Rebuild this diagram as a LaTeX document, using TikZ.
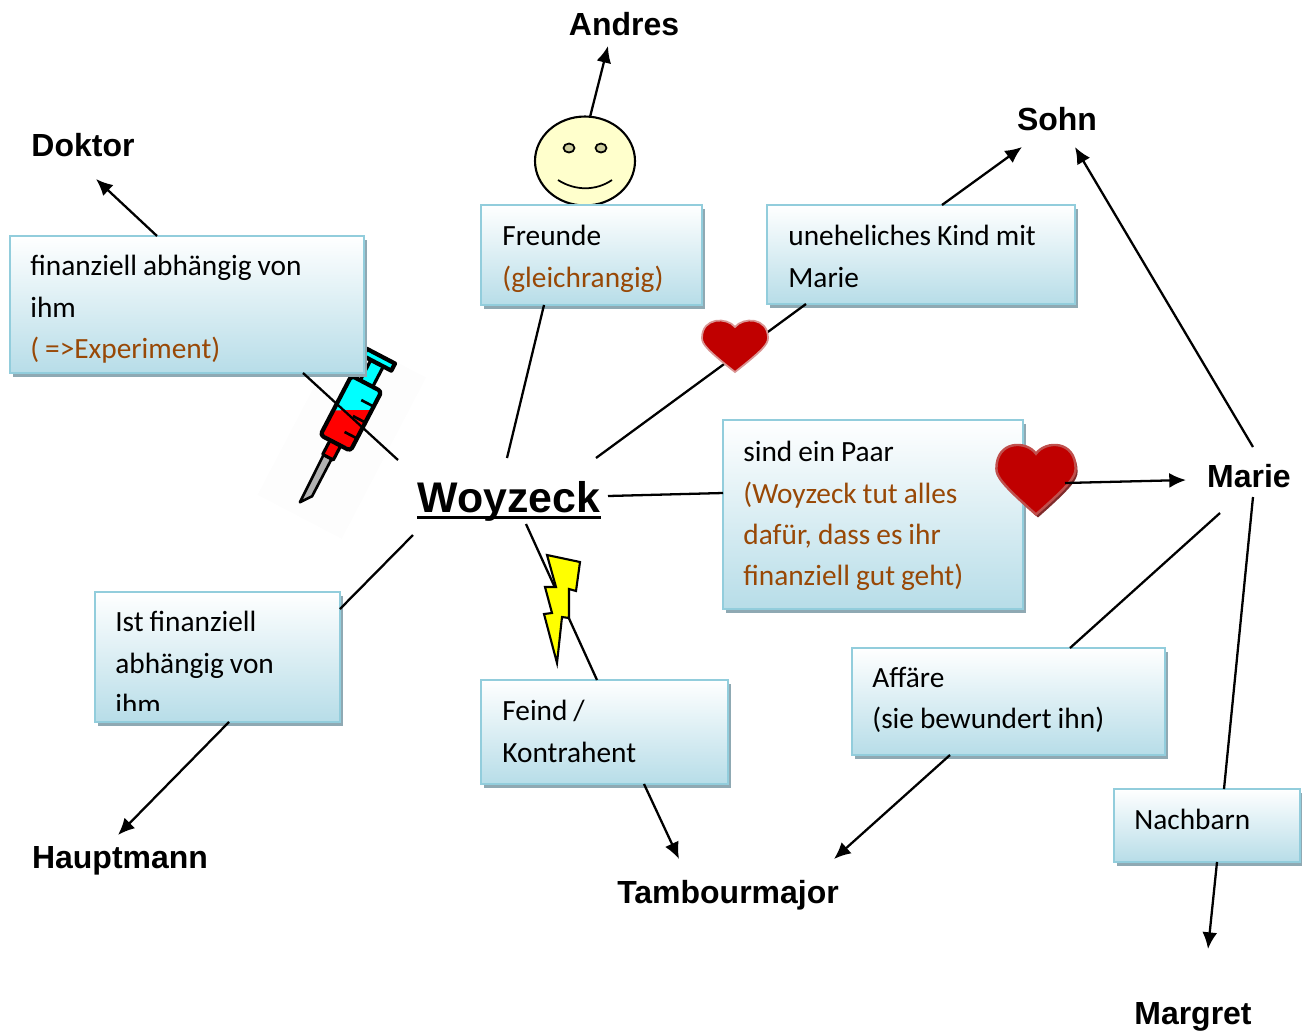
\documentclass[tikz,border=0pt]{standalone}
\usepackage{fontspec}
\setmainfont{Liberation Sans}
\newfontfamily\boxfont[WordSpace=0.9]{Carlito}
\usetikzlibrary{arrows.meta,calc,shadows,shapes.geometric}
\definecolor{boxline}{HTML}{92CDDC}
\definecolor{boxblue}{HTML}{B7DDE8}
\definecolor{boxshade}{HTML}{8FA9B3}
\definecolor{noteb}{HTML}{984806}
\definecolor{heartred}{HTML}{C00000}
\definecolor{heartedge}{HTML}{D99594}
\definecolor{bigedge}{HTML}{C0504D}
\definecolor{heartdark}{HTML}{7F2A2A}
\definecolor{faceyellow}{HTML}{FFFFCC}
\definecolor{eyegrey}{HTML}{CDCD9F}
\definecolor{syrcyan}{HTML}{00FFFF}
\definecolor{syrred}{HTML}{FF0000}
\definecolor{boltyellow}{HTML}{FFFF00}
\definecolor{syrback}{HTML}{FDFDFD}
\tikzset{
	relbox/.style={draw=boxline,line width=1.5pt,top color=white,bottom color=boxblue,
		drop shadow={shadow xshift=0.06cm,shadow yshift=-0.08cm,fill=boxshade,opacity=1},
		anchor=north west,inner sep=0pt,outer sep=0pt},
	boxtext/.style={anchor=north west,inner sep=0pt,align=left,
		font=\boxfont\fontsize{16.7}{23.5}\selectfont},
	person/.style={font=\bfseries\fontsize{18.2}{22}\selectfont,inner sep=0pt},
	link/.style={line width=1.3pt},
	linkto/.style={line width=1.3pt,-{Latex[length=9.5pt,width=8.5pt]}},
	heartshape/.pic={
		\path[pic actions] (0,-18) .. controls (-8,-28) and (-33,-28) .. (-33,-7)
			.. controls (-33,-1) and (-28,5) .. (0,27)
			.. controls (28,5) and (33,-1) .. (33,-7)
			.. controls (33,-28) and (8,-28) .. (0,-18) -- cycle;
	}
}
\begin{document}
\begin{tikzpicture}[x=0.02cm,y=-0.02cm]
	\useasboundingbox (0,0) rectangle (1302,1032);

	% Syringe
	\begin{scope}[shift={(303,505)},rotate=-27.6,line join=round]
		\fill[syrback] (-45,12) rectangle (50,-170);
		\draw[black,line width=1.5pt,fill=black!30] (-4,-1) -- (-5,-54) -- (4,-54) -- (4,-12) -- cycle;
		\draw[black,line width=1.8pt,fill=syrred] (-6,-54) rectangle (6,-72);
		\draw[black,line width=1.8pt,fill=syrcyan] (-7,-137) rectangle (7,-162);
		\draw[black,line width=2.4pt,fill=syrcyan] (-16,-160) rectangle (16,-168);
		\fill[syrcyan] (-17,-72) rectangle (17,-137);
		\fill[syrred] (-17,-72) -- (-17,-98) -- (17,-116) -- (17,-72) -- cycle;
		\draw[black,line width=2.4pt,rounded corners=2] (-17,-70) rectangle (17,-137);
		\foreach \i in {84,102,120}{
				\draw[black,line width=1.5pt] (17,-\i) -- (3,-\i);
			}
	\end{scope}

	% Names
	\node[font=\bfseries\fontsize{24.4}{28}\selectfont,inner sep=0pt] (woyzeck) at (509,501) {Woyzeck};
	\draw[line width=1.8pt] ($(woyzeck.base west)+(0,5)$) -- ($(woyzeck.base east)+(0,5)$);
	\node[person] (andres) at (624,24) {Andres};
	\node[person] (doktor) at (83,145) {Doktor};
	\node[person] (sohn) at (1057,119) {Sohn};
	\node[person] (marie) at (1249,476) {Marie};
	\node[person] (hauptmann) at (120,861) {Hauptmann};
	\node[person] (tambour) at (728,895) {Tambourmajor};
	\node[person] (margret) at (1193,1017) {Margret};

	% Face
	\node[ellipse,draw=black,line width=1.2pt,fill=faceyellow,minimum width=2cm,minimum height=1.78cm,inner sep=0pt] (face) at (585,161) {};
	\draw[line width=1pt,fill=eyegrey] (569,148) ellipse (5.5 and 4.5);
	\draw[line width=1pt,fill=eyegrey] (601,148) ellipse (5.5 and 4.5);
	\draw[line width=1pt] (558,180) .. controls (575,191) and (596,191) .. (612,180);

	% Boxes
	\node[relbox,minimum width=7.08cm,minimum height=2.74cm] (finanz) at (10,236) {};
	\node[boxtext] (finanztext) at (30,255) {finanziell abhängig von\\ihm\\\textcolor{noteb}{( =>Experiment)}};
	\node[relbox,minimum width=4.42cm,minimum height=2cm] (freunde) at (481,205) {};
	\node[boxtext] (freundetext) at (502,225) {Freunde\\\textcolor{noteb}{(gleichrangig)}};
	\node[relbox,minimum width=6.16cm,minimum height=1.98cm] (kind) at (767,205) {};
	\node[boxtext] (kindtext) at (788,225) {uneheliches Kind mit\\Marie};
	\node[relbox,minimum width=6cm,minimum height=3.78cm] (paar) at (723,420) {};
	\node[boxtext] (paartext) at (743,441) {sind ein Paar\\\textcolor{noteb}{(Woyzeck tut alles}\\\textcolor{noteb}{dafür, dass es ihr}\\\textcolor{noteb}{finanziell gut geht)}};
	\node[relbox,minimum width=4.9cm,minimum height=2.6cm] (ist) at (95,592) {};
	\begin{scope}
		\clip (95,592) rectangle (340,710);
		\node[boxtext] (isttext) at (115,611) {Ist finanziell\\abhängig von\\ihm};
	\end{scope}
	\node[relbox,minimum width=4.94cm,minimum height=2.08cm] (feind) at (481,680) {};
	\node[boxtext] (feindtext) at (502,700) {Feind /\\Kontrahent};
	\node[relbox,minimum width=6.26cm,minimum height=2.14cm] (affaere) at (852,648) {};
	\node[boxtext] (affaeretext) at (872,667) {Affäre\\(sie bewundert ihn)};
	\node[relbox,minimum width=3.72cm,minimum height=1.46cm] (nachbarn) at (1114,789) {};
	\node[boxtext] (nachbarntext) at (1134,809) {Nachbarn};

	% Lines from Woyzeck
	\draw[link] ($(woyzeck)+(-111,-41)$) -- ($(finanz.south west)+(293,0)$);
	\draw[link] ($(woyzeck)+(-2,-43)$) -- ($(freunde.south west)+(63,0)$);
	\draw[link] ($(woyzeck)+(87,-43)$) -- ($(kind.south west)+(39,0)$);
	\draw[link] ($(woyzeck)+(99,-5)$) -- ($(paar.north west)+(0,73)$);
	\draw[link] ($(woyzeck)+(-96,34)$) -- ($(ist.north east)+(0,17)$);
	\draw[link] ($(woyzeck)+(17,23)$) -- ($(feind.north west)+(116,0)$);

	% Hearts
	\coordinate (smallheart) at (735,345);
	\coordinate (bigheart) at (1036,478);
	\pic[draw=heartedge,line width=1pt,fill=heartred] at (smallheart) {heartshape};
	\pic[xscale=1.2,yscale=1.35,fill=heartdark] at ($(bigheart)+(2,3)$) {heartshape};
	\pic[xscale=1.2,yscale=1.35,draw=bigedge,line width=1.4pt,fill=heartred] at (bigheart) {heartshape};

	% Bolt
	\draw[line width=1.2pt,fill=boltyellow] (547,555) -- (580,562) -- (576,591) -- (569,589) -- (569,618)
		-- (562,617) -- (557,663) -- (544,614) -- (552,613) -- (545,587) -- (556,587) -- cycle;

	% Arrows to the names
	\draw[linkto] ($(finanz.north west)+(147,0)$) -- ($(doktor)+(13,34)$);
	\draw[linkto] ($(face)+(5,-44)$) -- ($(andres)+(-16,22)$);
	\draw[linkto] ($(kind.north west)+(175,0)$) -- ($(sohn)+(-35,28)$);
	\draw[linkto] ($(bigheart)+(29,5)$) -- ($(marie)+(-63,4)$);
	\draw[linkto] ($(ist.south west)+(134,0)$) -- ($(hauptmann)+(-2,-26)$);
	\draw[linkto] ($(feind.south west)+(163,0)$) -- ($(tambour)+(-49,-36)$);
	\draw[linkto] ($(affaere.south west)+(98,0)$) -- ($(tambour)+(106,-36)$);
	\draw[linkto] ($(marie)+(4,-29)$) -- ($(sohn)+(18,28)$);
	\draw[linkto] ($(nachbarn.south west)+(103,0)$) -- ($(margret)+(15,-68)$);

	% Lines from Marie
	\draw[link] ($(marie)+(-29,37)$) -- ($(affaere.north west)+(218,0)$);
	\draw[link] ($(marie)+(4,21)$) -- ($(nachbarn.north west)+(110,0)$);
\end{tikzpicture}
\end{document}
